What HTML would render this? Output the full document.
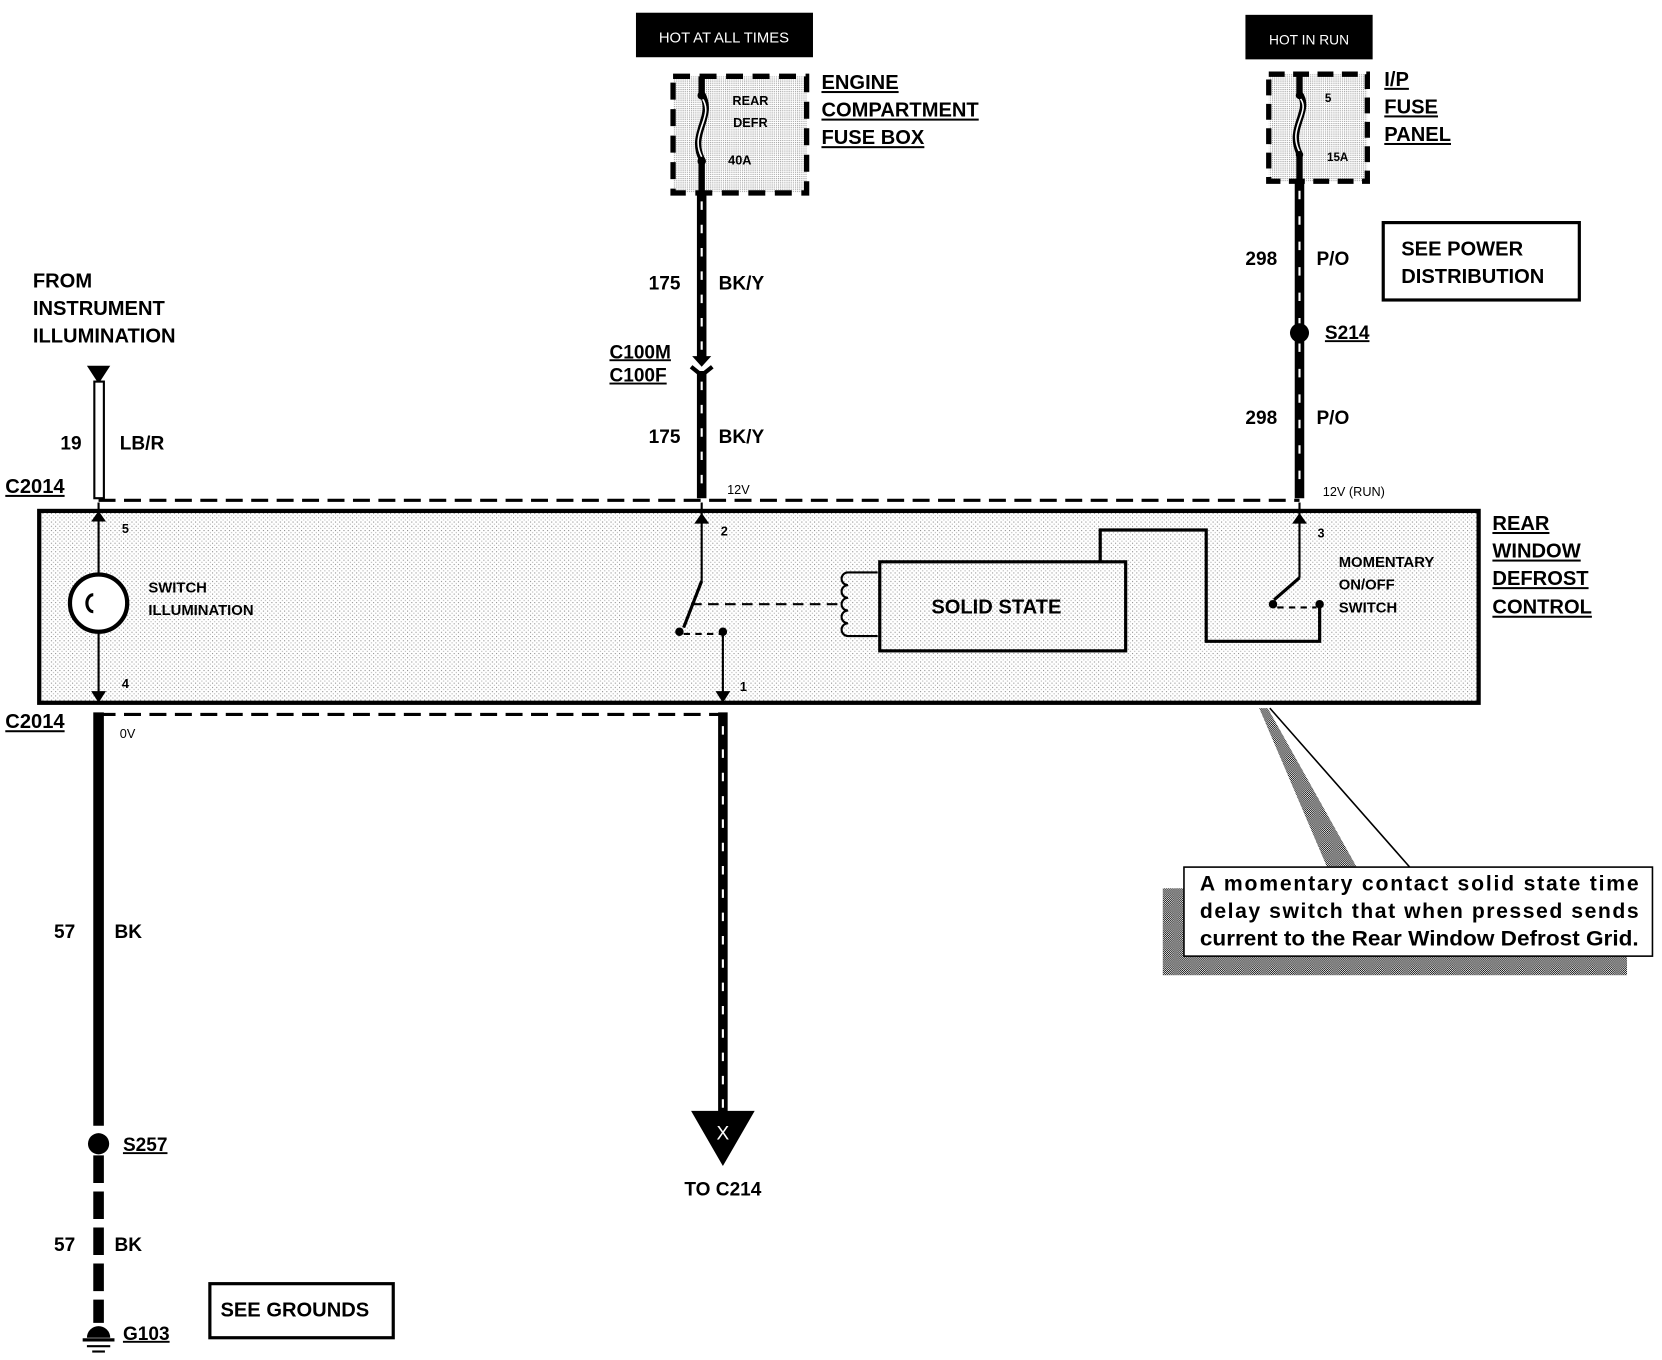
<!DOCTYPE html>
<html><head><meta charset="utf-8"><style>
html,body{margin:0;padding:0;background:#fff;}
svg{display:block;}
text{font-family:"Liberation Sans",Arial,sans-serif;font-weight:bold;fill:#000;}
</style></head><body>
<svg width="1662" height="1360" viewBox="0 0 1568 1283" preserveAspectRatio="none" xmlns="http://www.w3.org/2000/svg">
<defs>
<pattern id="st" width="4" height="4" patternUnits="userSpaceOnUse"><rect width="4" height="4" fill="#fff"/><rect width="1" height="1" fill="#888"/><rect x="2" y="2" width="1" height="1" fill="#aaa"/></pattern>
<pattern id="st2" width="2" height="2" patternUnits="userSpaceOnUse"><rect width="2" height="2" fill="#fff"/><rect width="1" height="1" fill="#999"/></pattern>
<pattern id="sh" width="2" height="2" patternUnits="userSpaceOnUse"><rect width="2" height="2" fill="#fff"/><rect width="1" height="1" fill="#000"/><rect x="1" y="1" width="1" height="1" fill="#000"/></pattern>
</defs>
<!-- top left fuse -->
<rect x="600" y="12" width="167" height="42" fill="#000"/>
<text x="683" y="40" font-size="14" text-anchor="middle" style="fill:#fff;font-weight:normal">HOT AT ALL TIMES</text>
<rect x="635" y="72" width="126" height="110" fill="url(#st2)" stroke="#000" stroke-width="5" stroke-dasharray="16,9"/>
<path d="M662 72 V88 C675 110,650 125,662 150 V183" fill="none" stroke="#000" stroke-width="6"/>
<path d="M662 92 C675 110,650 125,662 148" fill="none" stroke="#fff" stroke-width="1.5"/>
<circle cx="662" cy="90" r="4"/><circle cx="662" cy="152" r="4"/>
<text x="708" y="99" font-size="12" text-anchor="middle">REAR</text>
<text x="708" y="120" font-size="12" text-anchor="middle">DEFR</text>
<text x="698" y="155" font-size="12" text-anchor="middle">40A</text>
<g font-size="19" text-decoration="underline"><text x="775" y="84">ENGINE</text><text x="775" y="110">COMPARTMENT</text><text x="775" y="136">FUSE BOX</text></g>
<line x1="662" y1="183" x2="662" y2="340" stroke="#000" stroke-width="9"/>
<line x1="662" y1="190" x2="662" y2="330" stroke="#fff" stroke-width="2" stroke-dasharray="8,14"/>
<polygon points="653,336 671,336 662,346" fill="#000"/>
<path d="M652 346 L662 354 L672 346" fill="none" stroke="#000" stroke-width="4"/>
<line x1="662" y1="350" x2="662" y2="470" stroke="#000" stroke-width="9"/>
<line x1="662" y1="360" x2="662" y2="465" stroke="#fff" stroke-width="2" stroke-dasharray="8,14"/>
<text x="612" y="273" font-size="18">175</text><text x="678" y="273" font-size="18">BK/Y</text>
<text x="612" y="418" font-size="18">175</text><text x="678" y="418" font-size="18">BK/Y</text>
<g font-size="18" text-decoration="underline"><text x="575" y="338">C100M</text><text x="575" y="360">C100F</text></g>
<!-- top right fuse -->
<rect x="1175" y="14" width="120" height="42" fill="#000"/>
<text x="1235" y="42" font-size="13" text-anchor="middle" style="fill:#fff;font-weight:normal">HOT IN RUN</text>
<rect x="1197" y="70" width="93" height="101" fill="url(#st2)" stroke="#000" stroke-width="5" stroke-dasharray="15,8"/>
<path d="M1226 70 V88 C1238 105,1214 120,1226 145 V172" fill="none" stroke="#000" stroke-width="6"/>
<path d="M1226 92 C1238 105,1214 120,1226 143" fill="none" stroke="#fff" stroke-width="1.5"/>
<circle cx="1226" cy="90" r="3.5"/><circle cx="1226" cy="146" r="3.5"/>
<text x="1253" y="96" font-size="11" text-anchor="middle">5</text>
<text x="1262" y="152" font-size="11" text-anchor="middle">15A</text>
<g font-size="19" text-decoration="underline"><text x="1306" y="81">I/P</text><text x="1306" y="107">FUSE</text><text x="1306" y="133">PANEL</text></g>
<line x1="1226" y1="172" x2="1226" y2="470" stroke="#000" stroke-width="9"/>
<line x1="1226" y1="180" x2="1226" y2="465" stroke="#fff" stroke-width="2" stroke-dasharray="8,16"/>
<circle cx="1226" cy="314" r="9"/>
<text x="1175" y="250" font-size="18">298</text><text x="1242" y="250" font-size="18">P/O</text>
<text x="1175" y="400" font-size="18">298</text><text x="1242" y="400" font-size="18">P/O</text>
<text x="1250" y="320" font-size="18" text-decoration="underline">S214</text>
<rect x="1305" y="210" width="185" height="73" fill="#fff" stroke="#000" stroke-width="3"/>
<text x="1322" y="241" font-size="19">SEE POWER</text><text x="1322" y="267" font-size="19">DISTRIBUTION</text>
<!-- left top -->
<g font-size="19"><text x="31" y="271">FROM</text><text x="31" y="297">INSTRUMENT</text><text x="31" y="323">ILLUMINATION</text></g>
<polygon points="82,345 104,345 93,362" fill="#000"/>
<rect x="89" y="360" width="9" height="110" fill="#fff" stroke="#000" stroke-width="2"/>
<text x="57" y="424" font-size="18">19</text><text x="113" y="424" font-size="18">LB/R</text>
<text x="5" y="465" font-size="19" text-decoration="underline">C2014</text>
<line x1="93" y1="472" x2="1226" y2="472" stroke="#000" stroke-width="3" stroke-dasharray="16,8"/>
<text x="686" y="466" font-size="12" style="font-weight:normal">12V</text>
<text x="1248" y="468" font-size="12" style="font-weight:normal">12V (RUN)</text>
<!-- main box -->
<rect x="37" y="482" width="1358" height="181" fill="url(#st)" stroke="#000" stroke-width="4"/>
<line x1="93" y1="474" x2="93" y2="664" stroke="#000" stroke-width="2"/>
<polygon points="86,492 93,482 100,492" fill="#000"/>
<polygon points="86,652 93,663 100,652" fill="#000"/>
<circle cx="93" cy="569" r="27" fill="#fff" stroke="#000" stroke-width="4"/>
<path d="M88 561 a6 8 0 1 0 0 16" fill="none" stroke="#000" stroke-width="3"/>
<text x="115" y="503" font-size="12">5</text><text x="115" y="649" font-size="12">4</text>
<text x="140" y="559" font-size="14">SWITCH</text><text x="140" y="580" font-size="14">ILLUMINATION</text>
<!-- center switch -->
<line x1="662" y1="474" x2="662" y2="548" stroke="#000" stroke-width="2"/>
<polygon points="655,494 662,484 669,494" fill="#000"/>
<line x1="662" y1="548" x2="645" y2="592" stroke="#000" stroke-width="3"/>
<circle cx="641" cy="596" r="4"/><circle cx="682" cy="596" r="4"/>
<line x1="645" y1="598" x2="680" y2="598" stroke="#000" stroke-width="2" stroke-dasharray="6,5"/>
<line x1="652" y1="570" x2="790" y2="570" stroke="#000" stroke-width="2" stroke-dasharray="10,6"/>
<line x1="682" y1="596" x2="682" y2="664" stroke="#000" stroke-width="2"/>
<polygon points="675,652 682,663 689,652" fill="#000"/>
<text x="680" y="505" font-size="12">2</text><text x="698" y="652" font-size="12">1</text>
<path d="M828 540 H800 a6 6 0 0 0 0 12 a6 6 0 0 0 0 12 a6 6 0 0 0 0 12 a6 6 0 0 0 0 12 a6 6 0 0 0 0 12 H828" fill="none" stroke="#000" stroke-width="2"/>
<rect x="830" y="530" width="232" height="84" fill="url(#st)" stroke="#000" stroke-width="3"/>
<text x="940" y="579" font-size="19" text-anchor="middle">SOLID STATE</text>
<polyline points="1038,530 1038,500 1138,500 1138,605 1245,605 1245,570" fill="none" stroke="#000" stroke-width="3"/>
<!-- right switch -->
<line x1="1226" y1="474" x2="1226" y2="545" stroke="#000" stroke-width="2"/>
<polygon points="1219,494 1226,484 1233,494" fill="#000"/>
<line x1="1226" y1="545" x2="1202" y2="566" stroke="#000" stroke-width="3"/>
<circle cx="1201" cy="570" r="4"/><circle cx="1245" cy="570" r="4"/>
<line x1="1205" y1="573" x2="1242" y2="573" stroke="#000" stroke-width="2" stroke-dasharray="6,5"/>
<text x="1243" y="507" font-size="12">3</text>
<g font-size="14"><text x="1263" y="535">MOMENTARY</text><text x="1263" y="556">ON/OFF</text><text x="1263" y="578">SWITCH</text></g>
<g font-size="19" text-decoration="underline"><text x="1408" y="500">REAR</text><text x="1408" y="526">WINDOW</text><text x="1408" y="552">DEFROST</text><text x="1408" y="579">CONTROL</text></g>
<!-- bottom -->
<text x="5" y="687" font-size="19" text-decoration="underline">C2014</text>
<line x1="93" y1="674" x2="682" y2="674" stroke="#000" stroke-width="3" stroke-dasharray="16,8"/>
<text x="113" y="696" font-size="12" style="font-weight:normal">0V</text>
<line x1="93" y1="672" x2="93" y2="1062" stroke="#000" stroke-width="10"/>
<circle cx="93" cy="1079" r="10"/>
<line x1="93" y1="1090" x2="93" y2="1248" stroke="#000" stroke-width="10" stroke-dasharray="26,8"/>
<text x="51" y="885" font-size="18">57</text><text x="108" y="885" font-size="18">BK</text>
<text x="51" y="1180" font-size="18">57</text><text x="108" y="1180" font-size="18">BK</text>
<text x="116" y="1086" font-size="18" text-decoration="underline">S257</text>
<path d="M82 1262 a11 11 0 0 1 22 0 Z" fill="#000"/>
<line x1="78" y1="1264" x2="108" y2="1264" stroke="#000" stroke-width="3"/>
<line x1="82" y1="1270" x2="104" y2="1270" stroke="#000" stroke-width="2"/>
<line x1="87" y1="1275" x2="99" y2="1275" stroke="#000" stroke-width="2"/>
<text x="116" y="1264" font-size="18" text-decoration="underline">G103</text>
<rect x="198" y="1211" width="173" height="51" fill="#fff" stroke="#000" stroke-width="3"/>
<text x="208" y="1242" font-size="19">SEE GROUNDS</text>
<line x1="682" y1="672" x2="682" y2="1050" stroke="#000" stroke-width="9"/>
<line x1="682" y1="685" x2="682" y2="1045" stroke="#fff" stroke-width="2" stroke-dasharray="8,14"/>
<polygon points="652,1048 712,1048 682,1100" fill="#000"/>
<text x="682" y="1075" font-size="18" text-anchor="middle" style="fill:#fff;font-weight:normal">X</text>
<text x="682" y="1128" font-size="18" text-anchor="middle">TO C214</text>
<!-- callout -->
<polygon points="1188,668 1196,668 1280,818 1252,818" fill="url(#sh)"/>
<line x1="1198" y1="668" x2="1330" y2="818" stroke="#000" stroke-width="1.5"/>
<rect x="1097" y="838" width="438" height="82" fill="url(#sh)"/>
<rect x="1117" y="818" width="442" height="84" fill="#fff" stroke="#000" stroke-width="1.5"/>
<g font-size="20" style="font-weight:normal"><text x="1132" y="840" textLength="414" lengthAdjust="spacing">A momentary contact solid state time</text><text x="1132" y="866" textLength="414" lengthAdjust="spacing">delay switch that when pressed  sends</text><text x="1132" y="892" textLength="414" lengthAdjust="spacingAndGlyphs">current to the Rear Window Defrost Grid.</text></g>
</svg>
</body></html>
